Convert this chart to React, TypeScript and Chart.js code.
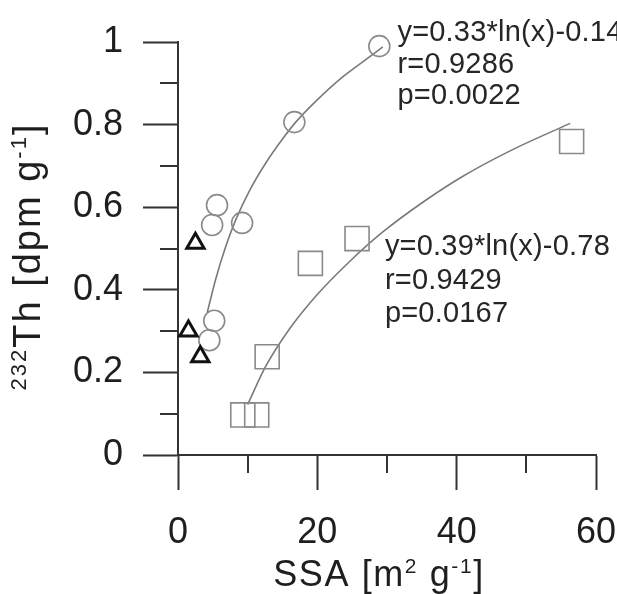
import React, { useEffect, useRef } from "react";
import { Chart, registerables } from "chart.js";

Chart.register(...registerables);

// ---- data ----
const circleX = [28.9, 16.7, 5.6, 4.9, 9.2, 5.2, 4.5];
const circleY = [0.99, 0.806, 0.605, 0.557, 0.562, 0.325, 0.278];

const triangleX = [2.5, 1.5, 3.2];
const triangleY = [0.513, 0.3, 0.238];

const squareX = [56.5, 25.7, 19.0, 12.8, 11.3, 9.3];
const squareY = [0.759, 0.524, 0.464, 0.238, 0.097, 0.097];

const fit1X = [4.2, 5.4, 6.9, 8.3, 10.2, 12.6, 15.0, 16.9, 19.8, 23.6, 27.0, 29.4];
const fit1Y = [0.345, 0.425, 0.507, 0.57, 0.638, 0.707, 0.765, 0.806, 0.857, 0.915, 0.958, 0.988];

const fit2X = [10.0, 12.6, 16.0, 19.8, 24.6, 29.4, 35.4, 40.9, 48.1, 56.3];
const fit2Y = [0.122, 0.215, 0.305, 0.385, 0.468, 0.54, 0.615, 0.675, 0.74, 0.803];

const xMinorTicks = [10, 30, 50];
const yMinorTicks = [0.1, 0.3, 0.5, 0.7, 0.9];

const fit1Text = ["y=0.33*ln(x)-0.14", "r=0.9286", "p=0.0022"];
const fit2Text = ["y=0.39*ln(x)-0.78", "r=0.9429", "p=0.0167"];

const FONT = "'Liberation Sans', Arial, sans-serif";

const zip = (xs: number[], ys: number[]) => xs.map((x, i) => ({ x, y: ys[i] }));

// annotation anchors in data coordinates
const fit1Anchor = { x: 31.5, y: 1.002 };
const fit2Anchor = { x: 29.7, y: 0.484 };

function drawPieces(
  ctx: CanvasRenderingContext2D,
  pieces: { t: string; sup?: boolean }[],
  big: number,
  small: number,
  raise: number,
  spacing: number
) {
  (ctx as any).letterSpacing = `${spacing}px`;
  let total = 0;
  for (const p of pieces) {
    ctx.font = `${p.sup ? small : big}px ${FONT}`;
    total += ctx.measureText(p.t).width;
  }
  let x = -total / 2;
  for (const p of pieces) {
    ctx.font = `${p.sup ? small : big}px ${FONT}`;
    ctx.fillText(p.t, x, p.sup ? -raise : 0);
    x += ctx.measureText(p.t).width;
  }
  (ctx as any).letterSpacing = "0px";
}

const extrasPlugin = {
  id: "extras",
  afterDraw(chart: any) {
    const ctx: CanvasRenderingContext2D = chart.ctx;
    const xs = chart.scales.x;
    const ys = chart.scales.y;
    const area = chart.chartArea;
    ctx.save();
    // minor ticks
    ctx.strokeStyle = "#333";
    ctx.lineWidth = 2;
    ctx.beginPath();
    for (const v of xMinorTicks) {
      const px = Math.round(xs.getPixelForValue(v));
      ctx.moveTo(px, area.bottom);
      ctx.lineTo(px, area.bottom + 18);
    }
    for (const v of yMinorTicks) {
      const py = Math.round(ys.getPixelForValue(v));
      ctx.moveTo(area.left - 18, py);
      ctx.lineTo(area.left, py);
    }
    ctx.stroke();

    // annotations
    ctx.fillStyle = "#262626";
    ctx.font = `29px ${FONT}`;
    ctx.textBaseline = "alphabetic";
    ctx.textAlign = "left";
    (ctx as any).letterSpacing = "0.2px";
    const a1x = xs.getPixelForValue(fit1Anchor.x);
    const a1y = ys.getPixelForValue(fit1Anchor.y);
    fit1Text.forEach((t, i) => ctx.fillText(t, a1x, a1y + i * 31.5));
    const a2x = xs.getPixelForValue(fit2Anchor.x);
    const a2y = ys.getPixelForValue(fit2Anchor.y);
    fit2Text.forEach((t, i) => ctx.fillText(t, a2x, a2y + i * 33.5));
    (ctx as any).letterSpacing = "0px";

    // axis titles
    ctx.fillStyle = "#1e1e1e";
    ctx.textAlign = "left";
    ctx.save();
    ctx.translate((area.left + area.right) / 2 - 8, 586);
    drawPieces(
      ctx,
      [{ t: "SSA [m" }, { t: "2", sup: true }, { t: " g" }, { t: "-1", sup: true }, { t: "]" }],
      36,
      21,
      13,
      1.6
    );
    ctx.restore();

    ctx.save();
    ctx.translate(40, (area.top + area.bottom) / 2 + 8);
    ctx.rotate(-Math.PI / 2);
    drawPieces(
      ctx,
      [{ t: "232", sup: true }, { t: "Th [dpm g" }, { t: "-1", sup: true }, { t: "]" }],
      38,
      22,
      14,
      2
    );
    ctx.restore();
    ctx.restore();
  },
};

export default function App() {
  const ref = useRef<HTMLCanvasElement>(null);
  useEffect(() => {
    if (!ref.current) return;
    const gray = "#8a8a8a";
    const tickFmt = (v: any) => String(Number(Number(v).toFixed(1)));
    const chart = new Chart(ref.current, {
      type: "scatter",
      data: {
        datasets: [
          {
            label: "fit1",
            data: zip(fit1X, fit1Y),
            showLine: true,
            pointRadius: 0,
            borderColor: "#7a7a7a",
            borderWidth: 1.6,
            cubicInterpolationMode: "monotone",
            clip: false,
            order: 5,
          } as any,
          {
            label: "fit2",
            data: zip(fit2X, fit2Y),
            showLine: true,
            pointRadius: 0,
            borderColor: "#7a7a7a",
            borderWidth: 1.6,
            cubicInterpolationMode: "monotone",
            clip: false,
            order: 5,
          } as any,
          {
            label: "circles",
            data: zip(circleX, circleY),
            pointStyle: "circle",
            pointRadius: 10.5,
            pointBorderWidth: 1.6,
            pointBorderColor: gray,
            pointBackgroundColor: "rgba(0,0,0,0)",
            clip: false,
            order: 1,
          } as any,
          {
            label: "squares",
            data: zip(squareX, squareY),
            pointStyle: "rect",
            pointRadius: 17,
            pointBorderWidth: 1.6,
            pointBorderColor: gray,
            pointBackgroundColor: "rgba(0,0,0,0)",
            clip: false,
            order: 1,
          } as any,
          {
            label: "triangles",
            data: zip(triangleX, triangleY),
            pointStyle: "triangle",
            pointRadius: 10,
            pointBorderWidth: 3,
            pointBorderColor: "#111",
            pointBackgroundColor: "rgba(0,0,0,0)",
            clip: false,
            order: 0,
          } as any,
        ],
      },
      options: {
        animation: false,
        responsive: false,
        events: [],
        layout: { padding: { left: 0, top: 42, right: 21, bottom: 0 } },
        plugins: { legend: { display: false }, tooltip: { enabled: false } },
        scales: {
          x: {
            type: "linear",
            min: 0,
            max: 60,
            afterFit: (s: any) => {
              s.height = 139;
              s.paddingLeft = 0;
              s.paddingRight = 0;
            },
            ticks: {
              stepSize: 20,
              padding: 21,
              color: "#1e1e1e",
              font: { size: 36, family: FONT },
              maxRotation: 0,
              callback: tickFmt,
            },
            grid: {
              drawOnChartArea: false,
              drawTicks: true,
              tickLength: 35,
              tickWidth: 2,
              tickColor: "#333",
            },
            border: { display: true, color: "#333", width: 2 },
          },
          y: {
            type: "linear",
            min: 0,
            max: 1,
            afterFit: (s: any) => {
              s.width = 178;
              s.paddingTop = 0;
              s.paddingBottom = 0;
            },
            ticks: {
              stepSize: 0.2,
              padding: 20,
              color: "#1e1e1e",
              font: { size: 36, family: FONT },
              callback: tickFmt,
            },
            grid: {
              drawOnChartArea: false,
              drawTicks: true,
              tickLength: 35,
              tickWidth: 2,
              tickColor: "#333",
            },
            border: { display: true, color: "#333", width: 2 },
          },
        },
      },
      plugins: [extrasPlugin],
    } as any);
    return () => chart.destroy();
  }, []);
  return (
    <div style={{ position: "fixed", left: 0, top: 0, width: 617, height: 594, background: "#fff" }}>
      <canvas ref={ref} width={617} height={594} style={{ display: "block" }} />
    </div>
  );
}
